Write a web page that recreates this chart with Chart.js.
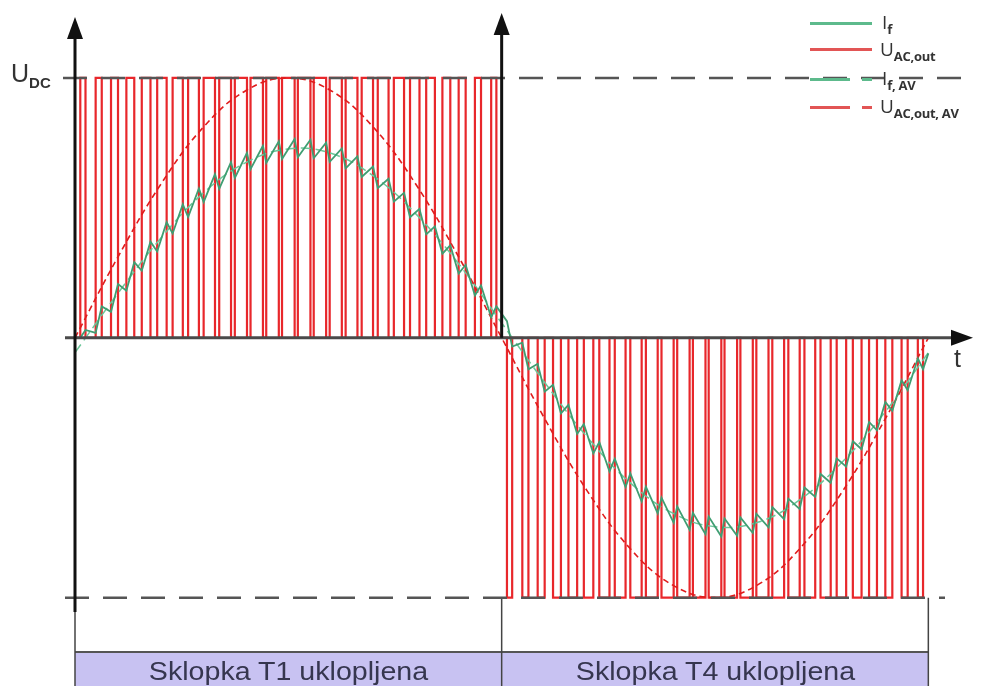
<!DOCTYPE html>
<html>
<head>
<meta charset="utf-8">
<script src="https://cdn.jsdelivr.net/npm/chart.js@4.4.0/dist/chart.umd.min.js"></script>
<style>
  body { margin: 0; background: #fff; }
  #wrap { position: relative; width: 989px; height: 686px; overflow: hidden;
          font-family: "Liberation Sans", Arial, sans-serif; color: #333; }
  #c { position: absolute; left: 0; top: 0; }
  .lbl { position: absolute; white-space: nowrap; line-height: 1; }
  .sub { position: relative; font-weight: bold; }
  .leg { font-family: "Open Sans", "Liberation Sans", sans-serif; font-size: 19px; color: #333; }
  .leg .sub { font-size: 13px; top: 5px; letter-spacing: -0.3px; }
  .key { position: absolute; height: 3px; }
  .box { position: absolute; top: 656px; font-size: 26px; color: #36364f; text-align: center;
         transform: scaleX(1.1); }
</style>
</head>
<body>
<div id="wrap">
  <canvas id="c" width="989" height="686"></canvas>

  <div class="lbl" style="left:11px;top:61px;font-size:25px;">U<span class="sub" style="font-size:15px;top:6px;">DC</span></div>
  <div class="lbl" style="left:954px;top:346px;font-size:25px;">t</div>

  <div class="key" style="left:810px;top:22px;width:62px;background:#5dba8c;"></div>
  <div class="lbl leg" style="left:882px;top:13px;">I<span class="sub">f</span></div>
  <div class="key" style="left:810px;top:48px;width:62px;background:#e25555;"></div>
  <div class="lbl leg" style="left:880px;top:40px;">U<span class="sub">AC,out</span></div>
  <div class="key" style="left:810px;top:78px;width:40px;background:#5dba8c;"></div>
  <div class="key" style="left:862px;top:78px;width:10px;background:#5dba8c;"></div>
  <div class="lbl leg" style="left:882px;top:69px;">I<span class="sub">f, AV</span></div>
  <div class="key" style="left:810px;top:106px;width:40px;background:#e25555;"></div>
  <div class="key" style="left:862px;top:106px;width:10px;background:#e25555;"></div>
  <div class="lbl leg" style="left:880px;top:97px;">U<span class="sub">AC,out, AV</span></div>

  <div class="box" style="left:75px;width:427px;">Sklopka T1 uklopljena</div>
  <div class="box" style="left:502px;width:427px;">Sklopka T4 uklopljena</div>
</div>

<script>
// switching instants (ms) of the output voltage, T1 half (0..10) and T4 half (10..20)
const onT1  = [0.124, 0.484, 0.844, 1.204, 1.565, 1.926, 2.288, 2.651, 3.015, 3.380, 3.746, 4.114, 4.482, 4.852,
               5.223, 5.595, 5.969, 6.343, 6.719, 7.096, 7.473, 7.852, 8.231, 8.611, 8.992, 9.373, 9.754];
const offT1 = [0.246, 0.627, 1.008, 1.389, 1.769, 2.148, 2.527, 2.904, 3.281, 3.657, 4.031, 4.405, 4.777, 5.148,
               5.518, 5.886, 6.254, 6.620, 6.985, 7.349, 7.712, 8.074, 8.435, 8.796, 9.156, 9.516, 9.876];
const onT4  = [10.124, 10.484, 10.844, 11.204, 11.565, 11.926, 12.288, 12.651, 13.015, 13.380, 13.746, 14.114, 14.482, 14.852,
               15.223, 15.595, 15.969, 16.343, 16.719, 17.096, 17.473, 17.852, 18.231, 18.611, 18.992, 19.373, 19.754];
const offT4 = [10.246, 10.627, 11.008, 11.389, 11.769, 12.148, 12.527, 12.904, 13.281, 13.657, 14.031, 14.405, 14.777, 15.148,
               15.518, 15.886, 16.254, 16.620, 16.985, 17.349, 17.712, 18.074, 18.435, 18.796, 19.156, 19.516, 19.876];

// filter current (relative to U_DC scale) at each switching instant
const iOnT1  = [0.000, 0.019, 0.100, 0.181, 0.258, 0.332, 0.401, 0.465, 0.522, 0.573, 0.615, 0.649, 0.673, 0.688,
                0.695, 0.691, 0.677, 0.652, 0.619, 0.576, 0.524, 0.464, 0.398, 0.324, 0.247, 0.163, 0.079];
const iOffT1 = [0.030, 0.121, 0.207, 0.291, 0.370, 0.445, 0.514, 0.575, 0.630, 0.676, 0.712, 0.739, 0.756, 0.765,
                0.762, 0.751, 0.729, 0.698, 0.659, 0.612, 0.558, 0.496, 0.429, 0.356, 0.281, 0.202, 0.121];
const iOnT4  = [0.064, -0.019, -0.100, -0.181, -0.258, -0.332, -0.401, -0.465, -0.522, -0.573, -0.615, -0.649, -0.673, -0.688,
                -0.695, -0.691, -0.677, -0.652, -0.619, -0.576, -0.524, -0.464, -0.398, -0.324, -0.247, -0.163, -0.079];
const iOffT4 = [-0.034, -0.121, -0.207, -0.291, -0.370, -0.445, -0.514, -0.575, -0.630, -0.676, -0.712, -0.739, -0.756, -0.765,
                -0.762, -0.751, -0.729, -0.698, -0.659, -0.612, -0.558, -0.496, -0.429, -0.356, -0.281, -0.202, -0.121];
const iStart = [0, 0];
const iEnd = [20, -0.06];

// averaged waveforms
const avgT = [0, 1, 2, 3, 4, 5, 6, 7, 8, 9, 10, 11, 12, 13, 14, 15, 16, 17, 18, 19, 20];
const uAvg = [0, 0.309, 0.588, 0.809, 0.951, 1, 0.951, 0.809, 0.588, 0.309, 0,
              -0.309, -0.588, -0.809, -0.951, -1, -0.951, -0.809, -0.588, -0.309, 0];
const iAvg = [-0.057, 0.170, 0.381, 0.556, 0.674, 0.727, 0.710, 0.622, 0.475, 0.283, 0.057,
              -0.170, -0.381, -0.556, -0.674, -0.727, -0.710, -0.622, -0.475, -0.283, -0.057];

function pulses(on, off, level) {
    const pts = [];
    for (let k = 0; k < on.length; k++) {
        pts.push({x: on[k], y: 0}, {x: on[k], y: level}, {x: off[k], y: level}, {x: off[k], y: 0});
    }
    return pts;
}

function ripple(on, off, iOn, iOff) {
    const pts = [];
    for (let k = 0; k < on.length; k++) {
        pts.push({x: on[k], y: iOn[k]}, {x: off[k], y: iOff[k]});
    }
    return pts;
}

const uData = [{x: 0, y: 0}, ...pulses(onT1, offT1, 1), {x: 10, y: 0}, ...pulses(onT4, offT4, -1), {x: 20, y: 0}];
const iData = [{x: iStart[0], y: iStart[1]}, ...ripple(onT1, offT1, iOnT1, iOffT1),
               ...ripple(onT4, offT4, iOnT4, iOffT4), {x: iEnd[0], y: iEnd[1]}];

function arrowHead(ctx, tx, ty, dx, dy) {
    // triangle with its tip at (tx, ty), pointing along (dx, dy)
    const len = 22, half = 8;
    const bx = tx - dx * len, by = ty - dy * len;
    ctx.beginPath();
    ctx.moveTo(tx, ty);
    ctx.lineTo(bx - dy * half, by + dx * half);
    ctx.lineTo(bx + dy * half, by - dx * half);
    ctx.closePath();
    ctx.fill();
}

const decor = {
    id: 'decor',
    beforeDatasetsDraw(chart) {
        const {ctx, scales: {x, y}} = chart;
        const x0 = x.getPixelForValue(0), xm = x.getPixelForValue(10), x1 = x.getPixelForValue(20);
        const yn = y.getPixelForValue(-1);
        ctx.save();
        ctx.fillStyle = '#c8c2f2';
        ctx.fillRect(x0, 652, x1 - x0, 40);
        ctx.strokeStyle = '#555';
        ctx.lineWidth = 2;
        ctx.beginPath();
        ctx.moveTo(x0, 652); ctx.lineTo(x1, 652);
        ctx.stroke();
        ctx.lineWidth = 1.5;
        ctx.strokeStyle = '#444';
        ctx.beginPath();
        ctx.moveTo(x0, yn); ctx.lineTo(x0, 686);
        ctx.moveTo(xm, yn); ctx.lineTo(xm, 686);
        ctx.moveTo(x1, yn); ctx.lineTo(x1, 686);
        ctx.stroke();
        ctx.restore();
    },
    afterDatasetsDraw(chart) {
        const {ctx, scales: {x, y}} = chart;
        const x0 = x.getPixelForValue(0), xm = x.getPixelForValue(10);
        const yp = y.getPixelForValue(1), y0 = y.getPixelForValue(0), yn = y.getPixelForValue(-1);
        ctx.save();
        // U_DC levels
        ctx.strokeStyle = '#555';
        ctx.lineWidth = 2.5;
        ctx.setLineDash([24, 14]);
        ctx.beginPath();
        ctx.moveTo(63, yp); ctx.lineTo(975, yp);
        ctx.moveTo(65, yn); ctx.lineTo(945, yn);
        ctx.stroke();
        ctx.setLineDash([]);
        // time axis
        ctx.strokeStyle = '#4a4a4a';
        ctx.fillStyle = '#111';
        ctx.lineWidth = 3;
        ctx.beginPath();
        ctx.moveTo(65, y0); ctx.lineTo(956, y0);
        ctx.stroke();
        arrowHead(ctx, 973, y0, 1, 0);
        // vertical axes
        ctx.strokeStyle = '#111';
        ctx.beginPath();
        ctx.moveTo(x0, 612); ctx.lineTo(x0, 36);
        ctx.moveTo(xm, y0); ctx.lineTo(xm, 32);
        ctx.stroke();
        arrowHead(ctx, x0, 17, 0, -1);
        arrowHead(ctx, xm, 13, 0, -1);
        ctx.restore();
    }
};

const chart = new Chart(document.getElementById('c').getContext('2d'), {
    type: 'line',
    data: {
        datasets: [{
            label: 'If',
            data: iData,
            borderColor: '#3f9e72',
            borderWidth: 1.8,
            order: 1
        }, {
            label: 'UAC,out,AV',
            data: avgT.map((t, k) => ({x: t, y: uAvg[k]})),
            borderColor: '#e01c1c',
            borderWidth: 1.6,
            borderDash: [6, 4],
            tension: 0.4,
            order: 2
        }, {
            label: 'If,AV',
            data: avgT.map((t, k) => ({x: t, y: iAvg[k]})),
            borderColor: '#6cc79a',
            borderWidth: 1.5,
            borderDash: [10, 5],
            tension: 0.4,
            order: 3
        }, {
            label: 'UAC,out',
            data: uData,
            borderColor: 'rgba(230, 16, 20, 0.9)',
            borderWidth: 2.2,
            order: 4
        }]
    },
    options: {
        responsive: false,
        animation: false,
        devicePixelRatio: 1,
        layout: { padding: { left: 75, right: 18, top: 0, bottom: 0 } },
        elements: { point: { radius: 0 }, line: { tension: 0 } },
        scales: {
            x: { type: 'linear', min: 0, max: 21, display: false },
            y: { type: 'linear', min: -1.34, max: 1.30, display: false }
        },
        plugins: {
            legend: { display: false },
            tooltip: { enabled: false }
        }
    },
    plugins: [decor]
});
</script>
</body>
</html>
